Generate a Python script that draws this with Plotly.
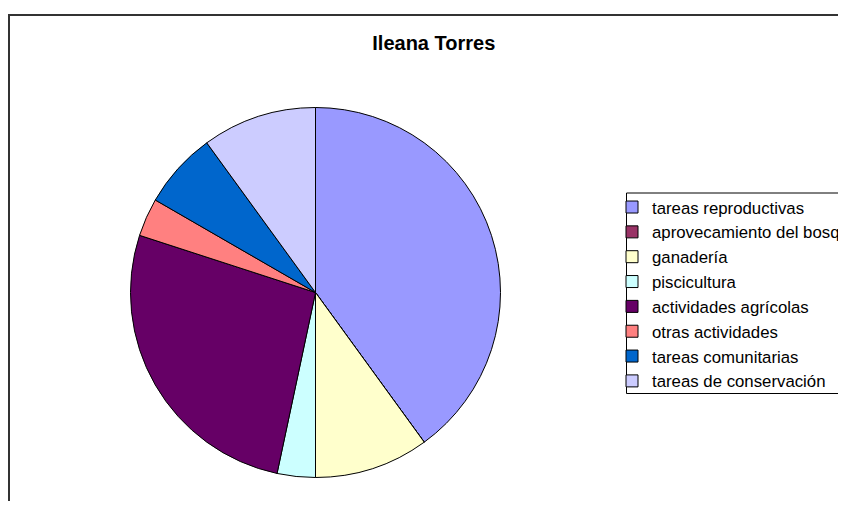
import plotly.graph_objects as go

# The page body has an 8px margin, so the figure is offset by 8px in the window
W, H = 838, 493
OFF = 8  # page offset of the figure

categories = [
    "tareas reproductivas",
    "aprovecamiento del bosque",
    "ganadería",
    "piscicultura",
    "actividades agrícolas",
    "otras actividades",
    "tareas comunitarias",
    "tareas de conservación",
]
values = [12, 0, 3, 1, 8, 1, 2, 3]
colors = ["#9999FF", "#993366", "#FFFFCC", "#CCFFFF", "#660066", "#FF8080", "#0066CC", "#CCCCFF"]

FONT = "Arial, 'Liberation Sans', sans-serif"


def px(x):
    return (x - OFF) / W


def py(y):
    return 1 - (y - OFF) / H


# pie geometry in page pixels
cx, cy, r = 315.5, 292.5, 185

fig = go.Figure(go.Pie(
    labels=categories,
    values=values,
    sort=False,
    direction="clockwise",
    rotation=0,
    marker=dict(colors=colors, line=dict(color="black", width=1)),
    textinfo="none",
    hoverinfo="label+value+percent",
    domain=dict(x=[px(cx - r), px(cx + r)], y=[py(cy + r), py(cy - r)]),
))

fig.update_layout(
    width=W, height=H,
    margin=dict(l=0, r=0, t=0, b=0, pad=0, autoexpand=False),
    paper_bgcolor="white",
    plot_bgcolor="white",
    font=dict(family=FONT, color="black"),
    title=dict(
        text="<b>Ileana Torres</b>",
        font=dict(family=FONT, size=20, color="black"),
        x=px(433.8), xanchor="center", xref="paper",
        y=py(42.8), yanchor="middle", yref="container",
    ),
    legend=dict(
        x=px(612), xanchor="left",
        y=py(207 - 17.4), yanchor="top",
        font=dict(family=FONT, size=16.8, color="black"),
        bgcolor="rgba(0,0,0,0)",
        borderwidth=0,
        traceorder="normal",
    ),
    shapes=[
        dict(type="rect", xref="paper", yref="paper",
             x0=px(9), x1=1.1, y0=-0.1, y1=py(15),
             line=dict(color="#333333", width=2), layer="below"),
        dict(type="rect", xref="paper", yref="paper",
             x0=px(626.5), x1=1.1, y0=py(393.5), y1=py(193),
             line=dict(color="black", width=1), fillcolor="white", layer="below"),
    ],
)

fig.write_html("out.html")
